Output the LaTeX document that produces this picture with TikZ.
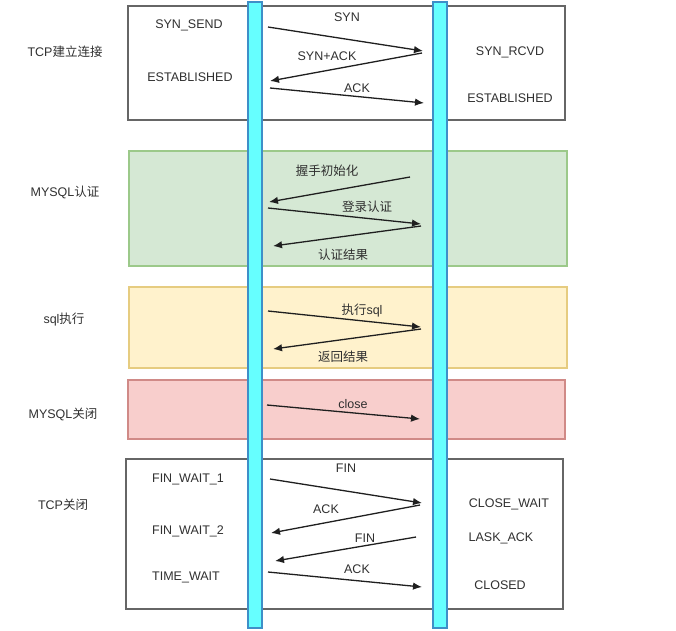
\documentclass[tikz,border=0pt]{standalone}
\usepackage{fontspec}
\setmainfont{Liberation Sans}
\newfontfamily\cjk{Noto Sans CJK SC}
\usepackage{xcolor}
\usetikzlibrary{arrows.meta, positioning}

\definecolor{txtgray}{HTML}{303030}
\definecolor{boxgray}{HTML}{666666}
\definecolor{authfill}{HTML}{D5E8D4}
\definecolor{authline}{HTML}{9CC98A}
\definecolor{execfill}{HTML}{FFF2CC}
\definecolor{execline}{HTML}{E6CC80}
\definecolor{closefill}{HTML}{F8CECC}
\definecolor{closeline}{HTML}{D08A87}
\definecolor{lifefill}{HTML}{66FFFF}
\definecolor{lifeline}{HTML}{3F8FC8}

\begin{document}
\begin{tikzpicture}[
  x=1pt, y=-1pt,
  phase/.style={draw=boxgray, line width=1.2pt, fill=white},
  lane/.style={draw=lifeline, fill=lifefill, line width=1.4pt, minimum width=14pt, minimum height=626pt, inner sep=0pt},
  msg/.style={-{Latex[length=9pt,width=7.5pt]}, line width=1.3pt, draw=black!88},
  lbl/.style={text=txtgray, font=\fontsize{12.5}{15}\selectfont, inner sep=1pt}
]
  \useasboundingbox (0,0) rectangle (676,630);

  % phase boxes
  \draw[phase] (128,6) rectangle (565,120);
  \draw[phase, draw=authline, fill=authfill] (129,151) rectangle (567,266);
  \draw[phase, draw=execline, fill=execfill] (129,287) rectangle (567,368);
  \draw[phase, draw=closeline, fill=closefill] (128,380) rectangle (565,439);
  \draw[phase] (126,459) rectangle (563,609);

  % phase names
  \node[lbl] (tcpopen) at (65,52) {TCP{\cjk 建立连接}};
  \node[lbl] (auth) at (65,192) {MYSQL{\cjk 认证}};
  \node[lbl] (exec) at (64,320) {sql{\cjk 执行}};
  \node[lbl] (mclose) at (63,414) {MYSQL{\cjk 关闭}};
  \node[lbl] (tcpclose) at (63,505) {TCP{\cjk 关闭}};

  % lifelines
  \node[lane] (client) at (255,315) {};
  \node[lane] (server) at (440,315) {};

  % states
  \foreach \n/\x/\y/\t in {
      synsend/189/25/SYN\_SEND, estA/190/77/ESTABLISHED,
      finwait1/188/479/FIN\_WAIT\_1, finwait2/188/531/FIN\_WAIT\_2,
      timewait/186/577/TIME\_WAIT,
      synrcvd/510/52/SYN\_RCVD, estB/510/98/ESTABLISHED,
      closewait/509/504/CLOSE\_WAIT, lastack/501/538/LASK\_ACK,
      closed/500/585/CLOSED}
    \node[lbl] (\n) at (\x,\y) {\t};

  % messages
  \foreach \n/\xa/\ya/\xb/\yb in {
      syn/268/27/423/51, synack/422/53/270/81, ack/270/88/424/103,
      hello/410/177/269/202, login/268/208/421/224, result/421/226/273/246,
      query/268/311/421/327, reply/421/329/273/349,
      close/267/405/420/419,
      fin/270/479/422/503, finack/420/505/271/533,
      finB/416/537/275/561, lastack/268/572/422/587}
  {
    \coordinate (\n-s) at (\xa,\ya);
    \coordinate (\n-e) at (\xb,\yb);
    \draw[msg] (\n-s) -- (\n-e);
  }

  % message labels
  \foreach \n/\x/\y/\t in {
      tsyn/347/17/SYN, tsynack/327/56/SYN+ACK, tack/357/88/ACK,
      thello/327/171/{\cjk 握手初始化}, tlogin/367/207/{\cjk 登录认证},
      tresult/343/255/{\cjk 认证结果},
      tquery/362/311/{\cjk 执行}sql, treply/343/357/{\cjk 返回结果},
      tclose/353/404/close,
      tfin/346/468/FIN, tfinack/326/509/ACK, tfinB/365/538/FIN,
      tlastack/357/569/ACK}
    \node[lbl] (\n) at (\x,\y) {\t};
\end{tikzpicture}
\end{document}
